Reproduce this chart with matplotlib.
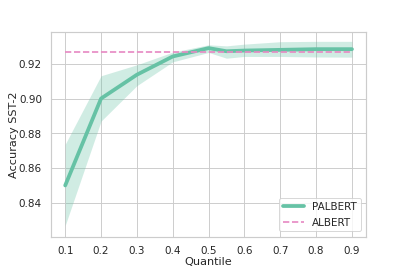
import matplotlib
matplotlib.use("Agg")
import matplotlib.pyplot as plt
import seaborn as sns

sns.set_theme(style="whitegrid", context="notebook")
plt.rcParams['font.family'] = ['DejaVu Sans']

quantiles = [0.1, 0.2, 0.3, 0.4, 0.5, 0.55, 0.6, 0.7, 0.8, 0.9]
palbert_mean = [0.850, 0.900, 0.9137, 0.9242, 0.929, 0.9272, 0.9276, 0.928, 0.9284, 0.9284]
palbert_upper = [0.8737, 0.9131, 0.9194, 0.9267, 0.9309, 0.9303, 0.9313, 0.9327, 0.9329, 0.9329]
palbert_lower = [0.827, 0.887, 0.9074, 0.9211, 0.9265, 0.9232, 0.9242, 0.9242, 0.9239, 0.9238]
albert_x = [0.1, 0.9]
albert_acc = [0.9265, 0.9265]

green = "#66c2a5"
pink = "#e78ac3"

fig = plt.figure(figsize=(6, 4), dpi=407/6)
ax = fig.add_axes([0.125, 0.127, 0.775, 0.754])
ax.fill_between(quantiles, palbert_lower, palbert_upper, color=green, alpha=0.3, linewidth=0)
ax.plot(quantiles, palbert_mean, color=green, linewidth=4, label="PALBERT")
ax.plot(albert_x, albert_acc, color=pink, linestyle="--", linewidth=1.8, label="ALBERT")

ax.set_xticks([0.1, 0.2, 0.3, 0.4, 0.5, 0.6, 0.7, 0.8, 0.9])
ax.set_yticks([0.84, 0.86, 0.88, 0.90, 0.92])
ax.set_ylim(0.8206, 0.9383)
ax.set_xlabel("Quantile", labelpad=1)
ax.set_ylabel("Accuracy SST-2", labelpad=0)
ax.legend(loc="lower right")

fig.savefig("out.png", dpi=407/6)
